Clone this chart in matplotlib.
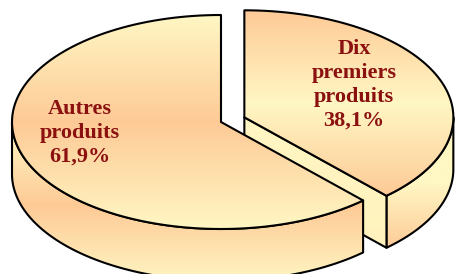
import numpy as np
import matplotlib.pyplot as plt
from matplotlib.patches import Polygon

# --- DATA ---
labels = ["Autres\nproduits", "Dix\npremiers\nproduits"]
values = [61.9, 38.1]
explode = [0.0, 0.12]

# --- GEOMETRI (pixel) ---
W, H = 455, 274
cx, cy = 221, 122
rx, ry = 209, 107
depth = 52

PALE = "#fff7c4"
PEACH = "#fdca96"
TXT = "#8b1010"

z = [1]  # penghitung zorder, biar urutan gambar benar


def pt(c, th):
    return (c[0] + rx * np.cos(th), c[1] - ry * np.sin(th))


def arc(c, a0, a1, n=120):
    t = np.linspace(a0, a1, n)
    return np.column_stack([c[0] + rx * np.cos(t), c[1] - ry * np.sin(t)])


def grad_fill(ax, xy, y0, y1, stops):
    # gradient vertikal, di-clip ke poligon
    pos = [s[0] for s in stops]
    cols = np.array([plt.matplotlib.colors.to_rgb(s[1]) for s in stops])
    t = np.linspace(0, 1, 256)
    img = np.stack([np.interp(t, pos, cols[:, k]) for k in range(3)], axis=-1)
    img = img[:, None, :]
    poly = Polygon(xy, closed=True, facecolor="none", edgecolor="black",
                   linewidth=1.5, joinstyle="round", zorder=z[0] + 0.5)
    ax.add_patch(poly)
    im = ax.imshow(img, extent=(0, W, y0, y1), origin="lower",
                   aspect="auto", interpolation="bilinear", zorder=z[0])
    im.set_clip_path(poly)
    z[0] += 1


fig = plt.figure(figsize=(W / 100, H / 100), dpi=100)
ax = fig.add_axes([0, 0, 1, 1])

# sudut tiap irisan (mulai dari atas, berlawanan jarum jam)
fr = np.array(values) / sum(values)
a_start = np.pi / 2
a_aut_end = a_start + 2 * np.pi * fr[0]          # Autres: 90 -> 312.8 deg
dix0, dix1 = a_aut_end - 2 * np.pi, a_start      # Dix: -47.2 -> 90 deg
mid = (dix0 + dix1) / 2
c1 = (cx, cy)
c2 = (cx + explode[1] * rx * np.cos(mid), cy - explode[1] * ry * np.sin(mid))

# --- Dix premiers produits (digambar dulu, di belakang) ---
side = arc(c2, dix0, 0)
side_xy = np.vstack([side, (side + [0, depth])[::-1]])
grad_fill(ax, side_xy, c2[1], c2[1] + depth + 80,
          [(0, PALE), (0.5, PALE), (1, PEACH)])

p = pt(c2, dix0)
face_xy = [c2, p, (p[0], p[1] + depth), (c2[0], c2[1] + depth)]
grad_fill(ax, face_xy, 100, 260, [(0, PALE), (1, "#fff2bd")])

top_xy = np.vstack([[c2], arc(c2, dix0, dix1)])
grad_fill(ax, top_xy, c2[1] - ry, pt(c2, dix0)[1],
          [(0, PEACH), (0.5, PALE), (1, PEACH)])

# --- Autres produits ---
side = arc(c1, np.pi, a_aut_end)
side_xy = np.vstack([side, (side + [0, depth])[::-1]])
grad_fill(ax, side_xy, 125, 285,
          [(0, PALE), (0.5, PEACH), (1, PALE)])

top_xy = np.vstack([[c1], arc(c1, a_start, a_aut_end)])
grad_fill(ax, top_xy, cy - ry, cy + ry,
          [(0, PALE), (0.5, PEACH), (1, PALE)])

# --- LABEL ---
txt_pos = [(80, 133), (354, 85)]
for lab, v, (tx, ty) in zip(labels, values, txt_pos):
    s = f"{lab}\n{v:.1f}%".replace(".", ",")
    ax.text(tx, ty, s, ha="center", va="center", fontsize=16,
            fontweight="bold", family="Liberation Serif", color=TXT,
            linespacing=1.27, zorder=50)

ax.set_xlim(0, W)
ax.set_ylim(H, 0)
ax.axis("off")

fig.savefig("out.png", dpi=100)
